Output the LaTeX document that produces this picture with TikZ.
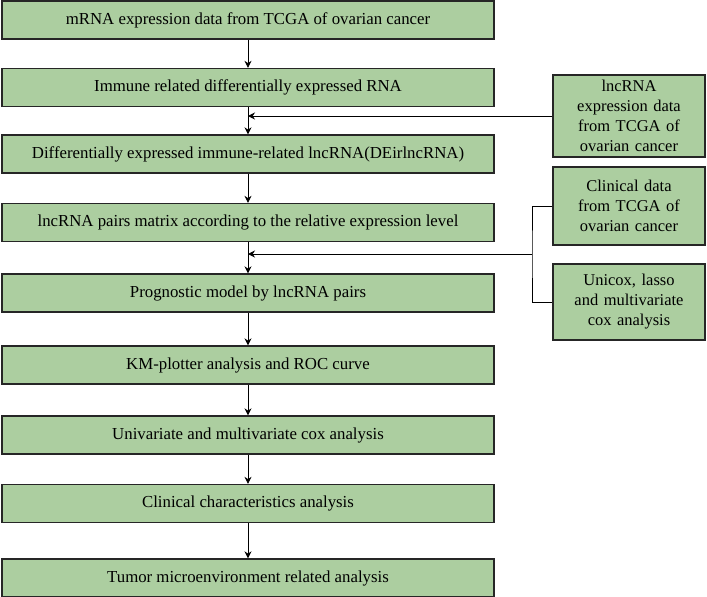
\documentclass[tikz,border=0pt]{standalone}
\usepackage{fontspec}
\setmainfont{Liberation Serif}
\usetikzlibrary{arrows.meta}
\definecolor{boxgreen}{RGB}{172,206,160}

\begin{document}
\begin{tikzpicture}[x=1pt,y=-1pt,
  stage/.style={draw=black!85, line width=1.3pt, fill=boxgreen,
    minimum width=492pt, minimum height=38pt, inner sep=0pt,
    font=\fontsize{16.8}{18}\selectfont},
  source/.style={draw=black!85, line width=1.3pt, fill=boxgreen,
    minimum width=152pt, inner sep=0pt, text width=145pt, align=center,
    font=\fontsize{16.5}{20}\selectfont},
  link/.style={-{Stealth[length=7pt,width=7pt]}, line width=0.8pt}]
\useasboundingbox (0,0) rectangle (707,597);
% Main column
\node[stage] (m1) at (248,20) {mRNA expression data from TCGA of ovarian cancer};
\node[stage] (m2) at (248,87.5) {Immune related differentially expressed RNA};
\node[stage] (m3) at (248,154) {Differentially expressed immune-related lncRNA(DEirlncRNA)};
\node[stage] (m4) at (248,222.5) {lncRNA pairs matrix according to the relative expression level};
\node[stage] (m5) at (248,293) {Prognostic model by lncRNA pairs};
\node[stage] (m6) at (248,365) {KM-plotter analysis and ROC curve};
\node[stage] (m7) at (248,435) {Univariate and multivariate cox analysis};
\node[stage] (m8) at (248,503.5) {Clinical characteristics analysis};
\node[stage] (m9) at (248,578) {Tumor microenvironment related analysis};
% Side inputs
\node[source, minimum height=82pt] (lnc) at (629,116) {lncRNA\\expression data\\from TCGA of\\ovarian cancer};
\node[source, minimum height=78pt] (clin) at (629,206) {Clinical data\\from TCGA of\\ovarian cancer};
\node[source, minimum height=76pt] (cox) at (629,302) {Unicox, lasso\\and multivariate\\cox analysis};
% Arrows down the column
\foreach \a/\b in {m1/m2, m2/m3, m3/m4, m4/m5, m5/m6, m6/m7, m7/m8, m8/m9}
  \draw[link] (\a) -- (\b);
% Arrows from the side
\draw[link] (lnc.west) -- (lnc.west -| m2.south);
\coordinate (joint) at (532,254);
\draw[line width=0.8pt] (clin.west) -| (joint) |- (cox.west);
\draw[link] (joint) -- (joint -| m4.south);
\end{tikzpicture}
\end{document}
